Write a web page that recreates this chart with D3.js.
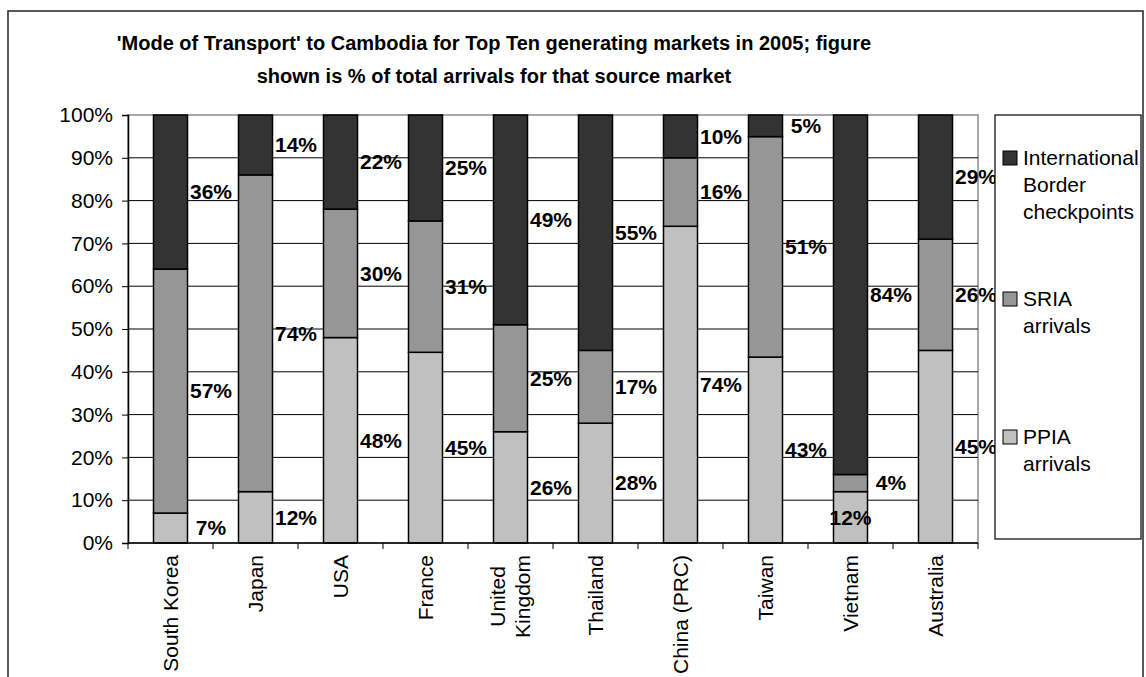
<!DOCTYPE html>
<html>
<head>
<meta charset="utf-8">
<script src="https://cdn.jsdelivr.net/npm/d3@7"></script>
<style>
  body { margin: 0; background: #fff; }
  svg { display: block; font-family: "Liberation Sans", Arial, sans-serif; }
</style>
</head>
<body>
<svg id="chart" width="1146" height="677"></svg>
<script>
// ---------- DATA ----------
const categories = ["South Korea", "Japan", "USA", "France", "United Kingdom", "Thailand", "China (PRC)", "Taiwan", "Vietnam", "Australia"];
const ppia = [7, 12, 48, 45, 26, 28, 74, 43, 12, 45];
const sria = [57, 74, 30, 31, 25, 17, 16, 51, 4, 26];
const ibc  = [36, 14, 22, 25, 49, 55, 10, 5, 84, 29];
const seriesNames = ["PPIA arrivals", "SRIA arrivals", "International Border checkpoints"];
const yTicks = [0, 0.1, 0.2, 0.3, 0.4, 0.5, 0.6, 0.7, 0.8, 0.9, 1.0];
const titleLines = ["'Mode of Transport' to Cambodia for Top Ten generating markets in 2005; figure",
                    "shown is % of total arrivals for that source market"];

// ---------- LAYOUT ----------
const W = 1146, H = 677;
const plot = { left: 128, right: 978, top: 115, bottom: 543 };
const colors = { "PPIA arrivals": "#c0c0c0", "SRIA arrivals": "#969696", "International Border checkpoints": "#333333" };
const fontSize = 21;

const svg = d3.select("#chart");
svg.append("rect").attr("width", W).attr("height", H).attr("fill", "#fff");
// outer chart border
svg.append("rect").attr("x", 8).attr("y", 11).attr("width", 1135).attr("height", 720)
  .attr("fill", "none").attr("stroke", "#222").attr("stroke-width", 1.5);

// title
const title = svg.append("text").attr("text-anchor", "middle")
  .attr("font-weight", "bold").attr("font-size", 20).attr("fill", "#000");
titleLines.forEach((t, i) => {
  title.append("tspan").attr("x", 494).attr("y", 50 + i * 33).text(t);
});

// table for stacking
const table = categories.map((c, i) => ({
  cat: c, "PPIA arrivals": ppia[i], "SRIA arrivals": sria[i], "International Border checkpoints": ibc[i]
}));
const stacked = d3.stack().keys(seriesNames).offset(d3.stackOffsetExpand)(table);

const x = d3.scaleBand().domain(categories).range([plot.left, plot.right]).paddingInner(0).paddingOuter(0);
const y = d3.scaleLinear().domain([0, 1]).range([plot.bottom, plot.top]);
const barW = x.bandwidth() * 0.4;

// plot area border (grey)
svg.append("rect").attr("x", plot.left).attr("y", plot.top)
  .attr("width", plot.right - plot.left).attr("height", plot.bottom - plot.top)
  .attr("fill", "#fff").attr("stroke", "#8c8c8c").attr("stroke-width", 1.5);

// gridlines
svg.append("g").selectAll("line").data(yTicks.filter(v => v > 0 && v < 1)).join("line")
  .attr("x1", plot.left).attr("x2", plot.right)
  .attr("y1", d => y(d)).attr("y2", d => y(d))
  .attr("stroke", "#000").attr("stroke-width", 1);

// bars
const gBars = svg.append("g");
stacked.forEach(s => {
  gBars.append("g").selectAll("rect").data(s).join("rect")
    .attr("x", d => x(d.data.cat) + (x.bandwidth() - barW) / 2)
    .attr("y", d => y(d[1]))
    .attr("width", barW)
    .attr("height", d => y(d[0]) - y(d[1]))
    .attr("fill", colors[s.key])
    .attr("stroke", "#000").attr("stroke-width", 1.5);
});

// y axis
const yAxis = d3.axisLeft(y).tickValues(yTicks).tickFormat(d3.format(".0%")).tickSize(6).tickPadding(9);
const gy = svg.append("g").attr("transform", `translate(${plot.left},0)`).call(yAxis);
gy.select(".domain").attr("stroke", "#000").attr("stroke-width", 1.5);
gy.selectAll(".tick line").attr("stroke", "#000");
gy.selectAll("text").attr("font-size", fontSize).attr("font-family", "Liberation Sans, Arial, sans-serif").attr("fill", "#000");

// x axis
const gx = svg.append("g").attr("transform", `translate(0,${plot.bottom})`);
gx.append("line").attr("x1", plot.left).attr("x2", plot.right).attr("stroke", "#000").attr("stroke-width", 1.5);
const boundaries = categories.map(c => x(c)).concat([plot.right]);
gx.selectAll("line.tk").data(boundaries).join("line").attr("class", "tk")
  .attr("x1", d => d).attr("x2", d => d).attr("y1", 0).attr("y2", 6)
  .attr("stroke", "#000").attr("stroke-width", 1);

// x labels (rotated)
categories.forEach(c => {
  const cx = x(c) + x.bandwidth() / 2;
  const words = c === "United Kingdom" ? ["United", "Kingdom"] : [c];
  if (words.length === 1) {
    svg.append("text")
      .attr("transform", `translate(${cx},${plot.bottom + 12}) rotate(-90)`)
      .attr("text-anchor", "end").attr("dy", "0.35em")
      .attr("font-size", fontSize).attr("fill", "#000").text(c);
  } else {
    const tmp = svg.append("text").attr("font-size", fontSize).text(words[1]);
    const wMax = tmp.node().getComputedTextLength();
    tmp.remove();
    words.forEach((w, i) => {
      svg.append("text")
        .attr("transform", `translate(${cx + (i - 0.5) * 25},${plot.bottom + 12 + wMax / 2}) rotate(-90)`)
        .attr("text-anchor", "middle").attr("dy", "0.35em")
        .attr("font-size", fontSize).attr("fill", "#000").text(w);
    });
  }
});

// data labels
const insideLabels = new Set(["Vietnam|PPIA arrivals"]);
const raw = { "PPIA arrivals": ppia, "SRIA arrivals": sria, "International Border checkpoints": ibc };
const gLab = svg.append("g").attr("font-weight", "bold").attr("font-size", fontSize).attr("fill", "#000");
stacked.forEach(s => {
  s.forEach((d, i) => {
    const cat = d.data.cat;
    const inside = insideLabels.has(cat + "|" + s.key);
    const lx = inside ? x(cat) + x.bandwidth() / 2 : x(cat) + x.bandwidth() - 2;
    gLab.append("text")
      .attr("x", lx).attr("y", y((d[0] + d[1]) / 2))
      .attr("text-anchor", "middle").attr("dy", "0.35em")
      .text(raw[s.key][i] + "%");
  });
});

// legend
const leg = { x: 995, y: 115, w: 146, h: 424 };
svg.append("rect").attr("x", leg.x).attr("y", leg.y).attr("width", leg.w).attr("height", leg.h)
  .attr("fill", "#fff").attr("stroke", "#000").attr("stroke-width", 1.2);
const legItems = [
  { key: "International Border checkpoints", lines: ["International", "Border", "checkpoints"], y: 158 },
  { key: "SRIA arrivals", lines: ["SRIA", "arrivals"], y: 299 },
  { key: "PPIA arrivals", lines: ["PPIA", "arrivals"], y: 437 }
];
legItems.forEach(it => {
  svg.append("rect").attr("x", leg.x + 8).attr("y", it.y - 7).attr("width", 14).attr("height", 14)
    .attr("fill", colors[it.key]).attr("stroke", "#000").attr("stroke-width", 1);
  it.lines.forEach((l, i) => {
    svg.append("text").attr("x", leg.x + 28).attr("y", it.y + i * 27).attr("dy", "0.35em")
      .attr("font-size", fontSize).attr("fill", "#000").text(l);
  });
});
</script>
</body>
</html>
